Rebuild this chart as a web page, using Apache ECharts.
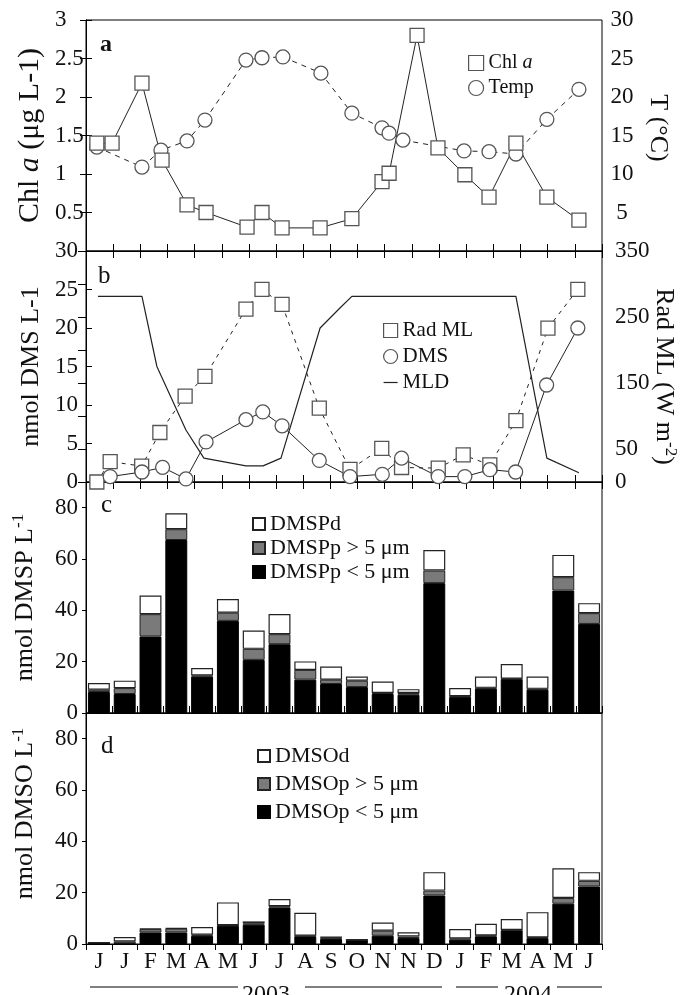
<!DOCTYPE html>
<html>
<head>
<meta charset="utf-8">
<script src="https://cdn.jsdelivr.net/npm/echarts@6/dist/echarts.min.js"></script>
<style>
  html, body { margin: 0; padding: 0; background: #fff; }
  #box { width: 681px; height: 995px; }
</style>
</head>
<body>
<div id="box"></div>
<script>
// panel a : Chl a (left axis) and temperature (right axis), x in axis units 0..19
var chlX = [0.40, 0.96, 2.06, 2.80, 3.72, 4.42, 5.93, 6.48, 7.22, 8.62, 9.79, 10.90, 11.16, 12.19, 12.96, 13.95, 14.84, 15.83, 16.97, 18.15];
var chl = [1.4, 1.4, 2.18, 1.18, 0.6, 0.5, 0.31, 0.5, 0.3, 0.3, 0.42, 0.9, 1.01, 2.8, 1.34, 0.99, 0.7, 1.4, 0.7, 0.4];
var tempX = [0.40, 2.06, 2.76, 3.72, 4.38, 5.89, 6.48, 7.25, 8.65, 9.79, 10.90, 11.16, 11.67, 13.92, 14.84, 15.83, 16.97, 18.15];
var temp = [13.5, 10.9, 13.1, 14.3, 17.0, 24.8, 25.1, 25.2, 23.1, 17.9, 16.0, 15.3, 14.4, 13.0, 12.9, 12.6, 17.1, 21.0];

// panel b : Rad ML (right axis), DMS and MLD (left axis)
var radX = [0.40, 0.89, 2.05, 2.72, 3.65, 4.38, 5.89, 6.48, 7.22, 8.59, 9.72, 10.89, 11.62, 12.97, 13.89, 14.87, 15.83, 17.01, 18.11];
var rad = [0, 31, 24, 75, 130, 160, 262, 292, 269, 112, 19, 51, 22, 21, 41, 26, 93, 233, 292];
var dmsX = [0.89, 2.06, 2.82, 3.68, 4.42, 5.89, 6.51, 7.22, 8.59, 9.72, 10.91, 11.62, 12.97, 13.95, 14.87, 15.82, 16.96, 18.11];
var dms = [0.7, 1.3, 1.9, 0.4, 5.2, 8.1, 9.1, 7.3, 2.8, 0.7, 1.0, 3.1, 0.7, 0.7, 1.6, 1.3, 12.6, 20.0];
var mldX = [0.44, 2.06, 2.61, 3.68, 4.34, 5.89, 6.52, 7.18, 8.62, 9.35, 9.79, 15.83, 16.97, 18.15];
var mld = [24.1, 24.1, 15.0, 6.75, 3.1, 2.1, 2.1, 3.1, 20.0, 22.6, 24.1, 24.1, 3.1, 1.2];

// panels c and d : monthly bars
var months = ['J', 'J', 'F', 'M', 'A', 'M', 'J', 'J', 'A', 'S', 'O', 'N', 'N', 'D', 'J', 'F', 'M', 'A', 'M', 'J'];
var dmspSmall = [8.2, 7.4, 29.8, 67.4, 14.2, 35.9, 20.7, 26.8, 13.0, 11.3, 10.1, 7.4, 7.1, 50.6, 6.2, 9.5, 13.2, 9.1, 47.7, 34.7];
var dmspLarge = [0.9, 2.3, 8.7, 4.2, 0.4, 3.2, 4.3, 3.9, 3.8, 1.7, 2.5, 0.4, 0.7, 4.9, 0.3, 0.3, 0.2, 0.3, 5.2, 4.2];
var dmspDiss = [2.6, 2.9, 7.3, 6.2, 2.9, 5.3, 7.1, 7.9, 3.3, 5.1, 1.6, 4.5, 1.5, 8.0, 3.2, 4.4, 5.7, 4.8, 8.7, 3.9];
var dmsoSmall = [0.5, 0.2, 4.5, 4.5, 3.2, 7.1, 7.5, 14.2, 3.0, 2.0, 1.6, 3.2, 2.3, 18.9, 1.7, 3.0, 5.3, 2.3, 15.7, 22.4];
var dmsoLarge = [0, 0.8, 1.3, 1.5, 0.4, 0.2, 0.5, 0.5, 0.2, 0.6, 0, 2.0, 0.6, 1.9, 0.5, 0.3, 0.2, 0.3, 2.2, 2.2];
var dmsoDiss = [0.1, 1.7, 0.2, 0.2, 3.0, 8.9, 0.8, 2.8, 9.0, 0.1, 0.1, 3.2, 1.7, 7.2, 3.6, 4.6, 4.2, 9.8, 11.6, 3.4];

var FONT = 'Liberation Serif';
var INK = '#111';

function pairs(xs, ys) {
    var out = [];
    for (var i = 0; i < xs.length; i++) {
        out.push([xs[i], ys[i]]);
    }
    return out;
}

function lineX(gridIndex, pos) {
    return {
        type: 'value', gridIndex: gridIndex, position: pos,
        min: 0, max: 19, interval: 1,
        axisLine: { show: true, lineStyle: { color: '#000', width: 1 } },
        axisTick: { show: true, inside: true, length: 7, lineStyle: { color: '#000' } },
        axisLabel: { show: false },
        splitLine: { show: false }
    };
}

function barX(gridIndex, pos, showLabel, tickInside, tickLen) {
    return {
        type: 'category', gridIndex: gridIndex, position: pos, data: months,
        boundaryGap: true,
        axisLine: { show: true, lineStyle: { color: '#000', width: 1 } },
        axisTick: { show: true, inside: tickInside, length: tickLen, alignWithLabel: false, lineStyle: { color: '#000' } },
        axisLabel: { show: showLabel, interval: 0, margin: 6, color: INK, fontFamily: FONT, fontSize: 23 },
        splitLine: { show: false }
    };
}

function yAx(opt) {
    var base = {
        type: 'value',
        axisLine: { show: true, lineStyle: { color: '#000', width: 1 } },
        axisTick: { show: true, inside: true, length: 6, lineStyle: { color: '#000' } },
        splitLine: { show: false },
        nameLocation: 'middle',
        nameMoveOverlap: false
    };
    for (var k in opt) base[k] = opt[k];
    return base;
}

function lab(extra) {
    var o = { color: INK, fontFamily: FONT, fontSize: 23 };
    for (var k in extra) o[k] = extra[k];
    return o;
}

function panelGrid(top) {
    return {
        left: 86, top: top, width: 516, height: 231,
        show: true, borderColor: '#000', borderWidth: 1, backgroundColor: 'transparent',
        containLabel: false, outerBoundsMode: 'none'
    };
}

var nameRich = {
    r: { fontFamily: FONT, fontSize: 26, color: INK, lineHeight: 30 },
    i: { fontFamily: FONT, fontSize: 26, color: INK, fontStyle: 'italic', lineHeight: 30 },
    s: { fontFamily: FONT, fontSize: 17, color: INK, verticalAlign: 'top', lineHeight: 30 }
};
var chlRich = {
    r: { fontFamily: FONT, fontSize: 30, color: INK, lineHeight: 32 },
    i: { fontFamily: FONT, fontSize: 30, color: INK, fontStyle: 'italic', lineHeight: 32 }
};

var markerStyle = { color: '#fff', borderColor: '#555', borderWidth: 1.3 };
var legendText = function (size) {
    return {
        fontFamily: FONT, fontSize: size, color: INK, lineHeight: size,
        rich: {
            r: { fontFamily: FONT, fontSize: size, color: INK },
            i: { fontFamily: FONT, fontSize: size, color: INK, fontStyle: 'italic' }
        }
    };
};

var option = {
    backgroundColor: '#fff',
    animation: false,
    title: [
        { text: 'a', left: 100, top: 33, padding: 0, textStyle: { fontFamily: FONT, fontSize: 24, fontWeight: 'bold', color: INK } },
        { text: 'b', left: 98, top: 264, padding: 0, textStyle: { fontFamily: FONT, fontSize: 25, fontWeight: 'normal', color: INK } },
        { text: 'c', left: 101, top: 493, padding: 0, textStyle: { fontFamily: FONT, fontSize: 25, fontWeight: 'normal', color: INK } },
        { text: 'd', left: 101, top: 734, padding: 0, textStyle: { fontFamily: FONT, fontSize: 25, fontWeight: 'normal', color: INK } }
    ],
    grid: [panelGrid(20), panelGrid(251), panelGrid(482), panelGrid(713)],
    legend: [
        {
            left: 468, top: 53, orient: 'vertical', padding: 0, itemGap: 5, itemWidth: 15, itemHeight: 15,
            textStyle: legendText(20),
            formatter: function (name) { return name === 'Chl a' ? '{r|Chl }{i|a}' : '{r|' + name + '}'; },
            data: [
                { name: 'Chl a', icon: 'rect', itemStyle: { color: '#fff', borderColor: '#555', borderWidth: 1.2 } },
                { name: 'Temp', icon: 'circle', itemStyle: { color: '#fff', borderColor: '#555', borderWidth: 1.2 } }
            ]
        },
        {
            left: 383, top: 320, orient: 'vertical', padding: 0, itemGap: 5, itemWidth: 14, itemHeight: 14,
            textStyle: legendText(21),
            data: [
                { name: 'Rad ML', icon: 'rect', itemStyle: { color: '#fff', borderColor: '#555', borderWidth: 1.2 } },
                { name: 'DMS', icon: 'circle', itemStyle: { color: '#fff', borderColor: '#555', borderWidth: 1.2 } },
                { name: 'MLD', itemStyle: { opacity: 0 }, lineStyle: { color: '#222', width: 1.2 } }
            ]
        },
        {
            left: 252, top: 513, orient: 'vertical', padding: 0, itemGap: 2, itemWidth: 12, itemHeight: 12,
            icon: 'rect',
            textStyle: legendText(22),
            data: ['DMSPd', 'DMSPp > 5 μm', 'DMSPp < 5 μm']
        },
        {
            left: 257, top: 745, orient: 'vertical', padding: 0, itemGap: 6, itemWidth: 12, itemHeight: 12,
            icon: 'rect',
            textStyle: legendText(22),
            data: ['DMSOd', 'DMSOp > 5 μm', 'DMSOp < 5 μm']
        }
    ],
    xAxis: [
        lineX(0, 'bottom'),
        lineX(0, 'top'),
        lineX(1, 'bottom'),
        lineX(1, 'top'),
        barX(2, 'bottom', false, true, 7),
        barX(3, 'top', false, true, 6),
        barX(3, 'bottom', true, false, 4)
    ],
    yAxis: [
        yAx({
            gridIndex: 0, position: 'left', min: 0, max: 3, interval: 0.5,
            axisLabel: lab({ align: 'left', margin: 31, showMinLabel: false }),
            name: '{r|Chl }{i|a}{r| (μg L-1)}', nameGap: 40, nameRotate: 90,
            nameTextStyle: { rich: chlRich }
        }),
        yAx({
            gridIndex: 0, position: 'right', min: 0, max: 30, interval: 5,
            axisLabel: lab({ align: 'center', margin: 20, showMinLabel: false }),
            name: 'T (°C)', nameGap: 43, nameRotate: -90,
            nameTextStyle: { fontFamily: FONT, fontSize: 26, color: INK, padding: [0, 15, 0, 0] }
        }),
        yAx({
            gridIndex: 1, position: 'left', min: 0, max: 30, interval: 5,
            axisLabel: lab({ align: 'right', margin: 8 }),
            name: 'nmol DMS L-1', nameGap: 42, nameRotate: 90,
            nameTextStyle: { fontFamily: FONT, fontSize: 26, color: INK }
        }),
        yAx({
            gridIndex: 1, position: 'right', min: 0, max: 350, interval: 50,
            axisTick: { show: true, inside: true, length: 8, lineStyle: { color: '#000' } },
            axisLabel: lab({
                align: 'left', margin: 13,
                formatter: function (v) { return (v === 0 || v % 100 === 50) ? String(v) : ''; }
            }),
            name: '{r|Rad ML (W m}{s|-2}{r|)}', nameGap: 47, nameRotate: -90,
            nameTextStyle: { rich: nameRich, padding: [0, 0, 0, 20] }
        }),
        yAx({
            gridIndex: 2, position: 'left', min: 0, max: 90, interval: 20,
            axisTick: { show: true, inside: false, length: 4, lineStyle: { color: '#000' } },
            axisLabel: lab({ align: 'right', margin: 8, showMaxLabel: false }),
            name: '{r|nmol DMSP L}{s|-1}', nameGap: 46, nameRotate: 90,
            nameTextStyle: { rich: nameRich }
        }),
        yAx({
            gridIndex: 3, position: 'left', min: 0, max: 90, interval: 20,
            axisTick: { show: true, inside: false, length: 4, lineStyle: { color: '#000' } },
            axisLabel: lab({ align: 'right', margin: 8, showMaxLabel: false }),
            name: '{r|nmol DMSO L}{s|-1}', nameGap: 46, nameRotate: 90,
            nameTextStyle: { rich: nameRich, padding: [0, 0, 0, 30] }
        })
    ],
    series: [
        {
            name: 'Temp', type: 'line', xAxisIndex: 0, yAxisIndex: 1,
            data: pairs(tempX, temp), symbol: 'circle', symbolSize: 14,
            itemStyle: markerStyle,
            lineStyle: { color: '#222', width: 1, type: [5, 5] }
        },
        {
            name: 'Chl a', type: 'line', xAxisIndex: 0, yAxisIndex: 0,
            data: pairs(chlX, chl), symbol: 'rect', symbolSize: 14,
            itemStyle: markerStyle,
            lineStyle: { color: '#222', width: 1 }
        },
        {
            name: 'MLD', type: 'line', xAxisIndex: 2, yAxisIndex: 2,
            data: pairs(mldX, mld), symbol: 'none',
            itemStyle: { color: '#222' },
            lineStyle: { color: '#222', width: 1.2 }
        },
        {
            name: 'Rad ML', type: 'line', xAxisIndex: 2, yAxisIndex: 3,
            data: pairs(radX, rad), symbol: 'rect', symbolSize: 14,
            itemStyle: markerStyle,
            lineStyle: { color: '#222', width: 1, type: [4, 5] }
        },
        {
            name: 'DMS', type: 'line', xAxisIndex: 2, yAxisIndex: 2,
            data: pairs(dmsX, dms), symbol: 'circle', symbolSize: 14,
            itemStyle: markerStyle,
            lineStyle: { color: '#222', width: 1 }
        },
        {
            name: 'DMSPp < 5 μm', type: 'bar', xAxisIndex: 4, yAxisIndex: 4, stack: 'dmsp',
            data: dmspSmall, barCategoryGap: '15%',
            itemStyle: { color: '#000', borderColor: '#000', borderWidth: 1 }
        },
        {
            name: 'DMSPp > 5 μm', type: 'bar', xAxisIndex: 4, yAxisIndex: 4, stack: 'dmsp',
            data: dmspLarge, barCategoryGap: '15%',
            itemStyle: { color: '#7a7a7a', borderColor: '#222', borderWidth: 1 }
        },
        {
            name: 'DMSPd', type: 'bar', xAxisIndex: 4, yAxisIndex: 4, stack: 'dmsp',
            data: dmspDiss, barCategoryGap: '15%',
            itemStyle: { color: '#fff', borderColor: '#222', borderWidth: 1.2 }
        },
        {
            name: 'DMSOp < 5 μm', type: 'bar', xAxisIndex: 6, yAxisIndex: 5, stack: 'dmso',
            data: dmsoSmall, barCategoryGap: '15%',
            itemStyle: { color: '#000', borderColor: '#000', borderWidth: 1 }
        },
        {
            name: 'DMSOp > 5 μm', type: 'bar', xAxisIndex: 6, yAxisIndex: 5, stack: 'dmso',
            data: dmsoLarge, barCategoryGap: '15%',
            itemStyle: { color: '#7a7a7a', borderColor: '#222', borderWidth: 1 }
        },
        {
            name: 'DMSOd', type: 'bar', xAxisIndex: 6, yAxisIndex: 5, stack: 'dmso',
            data: dmsoDiss, barCategoryGap: '15%',
            itemStyle: { color: '#fff', borderColor: '#222', borderWidth: 1.2 }
        }
    ],
    graphic: [
        { type: 'line', shape: { x1: 90, y1: 987, x2: 238, y2: 987 }, style: { stroke: '#000', lineWidth: 1 } },
        { type: 'line', shape: { x1: 305, y1: 987, x2: 442, y2: 987 }, style: { stroke: '#000', lineWidth: 1 } },
        { type: 'line', shape: { x1: 456, y1: 987, x2: 498, y2: 987 }, style: { stroke: '#000', lineWidth: 1 } },
        { type: 'line', shape: { x1: 557, y1: 987, x2: 602, y2: 987 }, style: { stroke: '#000', lineWidth: 1 } },
        { type: 'text', x: 266, y: 995, style: { text: '2003', fontFamily: FONT, fontSize: 24, fill: INK, align: 'center', verticalAlign: 'middle' } },
        { type: 'text', x: 528, y: 995, style: { text: '2004', fontFamily: FONT, fontSize: 24, fill: INK, align: 'center', verticalAlign: 'middle' } }
    ]
};

var myChart = echarts.init(document.getElementById('box'), null, { renderer: 'canvas' });
myChart.setOption(option);
</script>
</body>
</html>
